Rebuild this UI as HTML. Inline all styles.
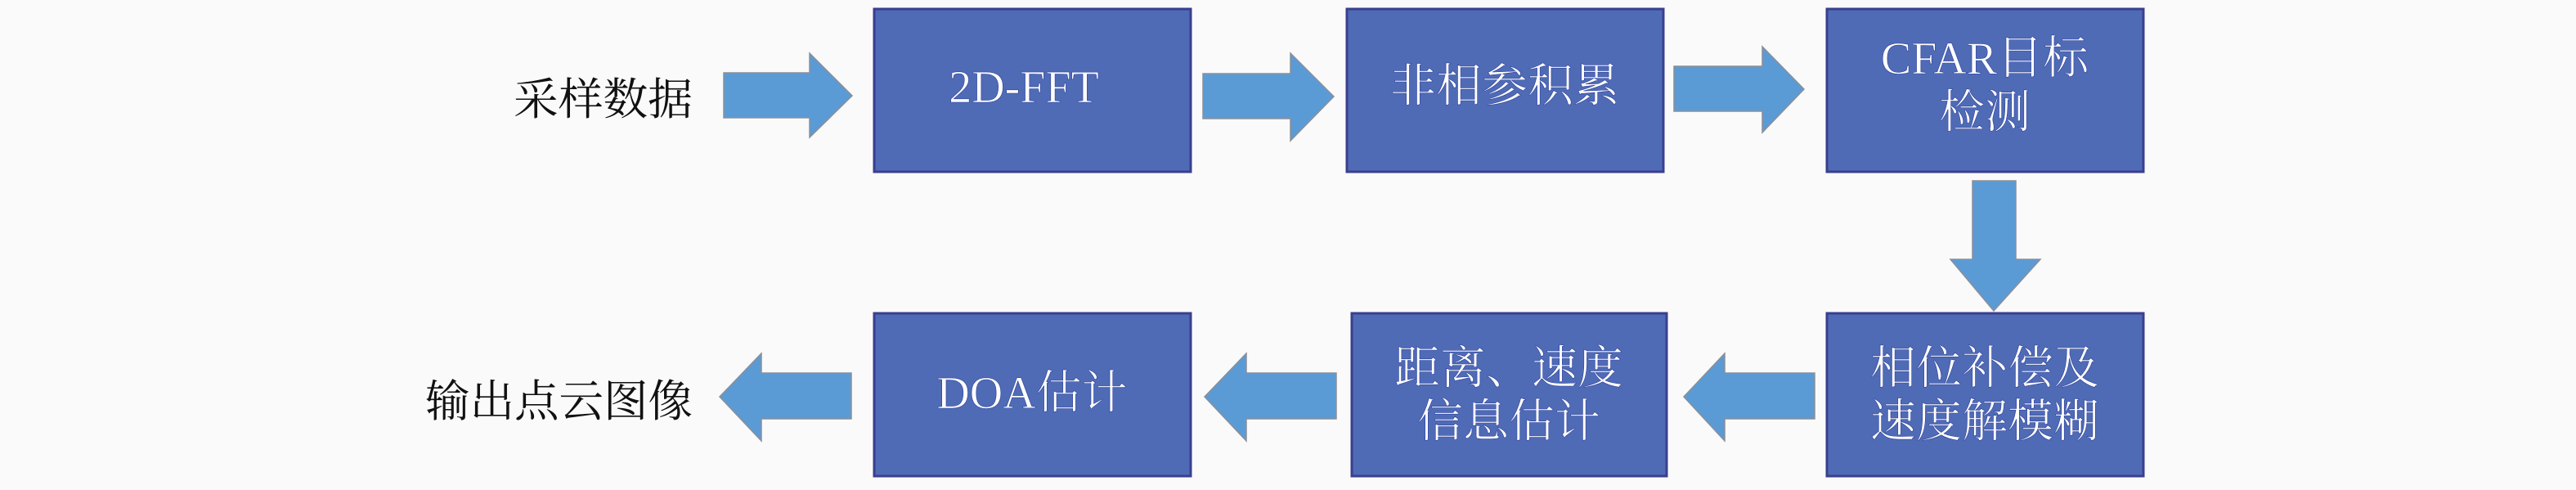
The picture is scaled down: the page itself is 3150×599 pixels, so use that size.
<!DOCTYPE html>
<html><head><meta charset="utf-8"><style>
html,body{margin:0;padding:0;background:#fafafa;}
svg{display:block;}
.b{fill:#4f6bb6;stroke:#3a3f8f;stroke-width:3;}
.t{fill:#fff;font-family:"Liberation Serif","Noto Serif CJK SC",serif;font-size:56px;text-anchor:middle;stroke:#2d3f9a;stroke-width:0.6;}
.l{fill:#111;font-family:"Liberation Serif","Noto Serif CJK SC",serif;font-size:54px;}
.a{fill:#5b9bd5;stroke:#8a8f99;stroke-width:1.5;}
</style></head><body>
<svg width="3150" height="599" viewBox="0 0 3150 599" xmlns="http://www.w3.org/2000/svg">
<rect width="3150" height="599" fill="#fafafa"/>
<!-- boxes -->
<rect class="b" x="1069" y="11" width="387" height="199"/>
<rect class="b" x="1647" y="11" width="387" height="199"/>
<rect class="b" x="2234" y="11" width="387" height="199"/>
<rect class="b" x="1069" y="383" width="387" height="199"/>
<rect class="b" x="1653" y="383" width="385" height="199"/>
<rect class="b" x="2234" y="383" width="387" height="199"/>
<!-- arrows top -->
<polygon class="a" points="885,89 990,89 990,65 1042,117 990,168 990,144 885,144"/>
<polygon class="a" points="1471,90 1578,90 1578,65 1631,118 1578,172 1578,145 1471,145"/>
<polygon class="a" points="2047,81 2155,81 2155,57 2206,109 2155,162 2155,136 2047,136"/>
<!-- down -->
<polygon class="a" points="2412,221 2465,221 2465,317 2495,317 2438,380 2385,317 2412,317"/>
<!-- left arrows -->
<polygon class="a" points="2219,456 2109,456 2109,432 2059,485 2109,539 2109,512 2219,512"/>
<polygon class="a" points="1634,456 1524,456 1524,432 1473,485 1524,539 1524,512 1634,512"/>
<polygon class="a" points="1041,456 931,456 931,432 880,485 931,539 931,512 1041,512"/>
<!-- labels -->
<text class="l" x="628" y="140" textLength="219" lengthAdjust="spacingAndGlyphs">采样数据</text>
<text class="l" x="520" y="509" textLength="327" lengthAdjust="spacingAndGlyphs">输出点云图像</text>
<text class="t" x="1252" y="125">2D-FFT</text>
<text class="t" x="1840" y="124">非相参积累</text>
<text class="t" x="2427" y="90">CFAR目标</text>
<text class="t" x="2427" y="156">检测</text>
<text class="t" x="2427" y="469">相位补偿及</text>
<text class="t" x="2427" y="534">速度解模糊</text>
<text class="t" x="1845" y="469">距离、速度</text>
<text class="t" x="1845" y="534">信息估计</text>
<text class="t" x="1262" y="499">DOA估计</text>
</svg>
</body></html>
